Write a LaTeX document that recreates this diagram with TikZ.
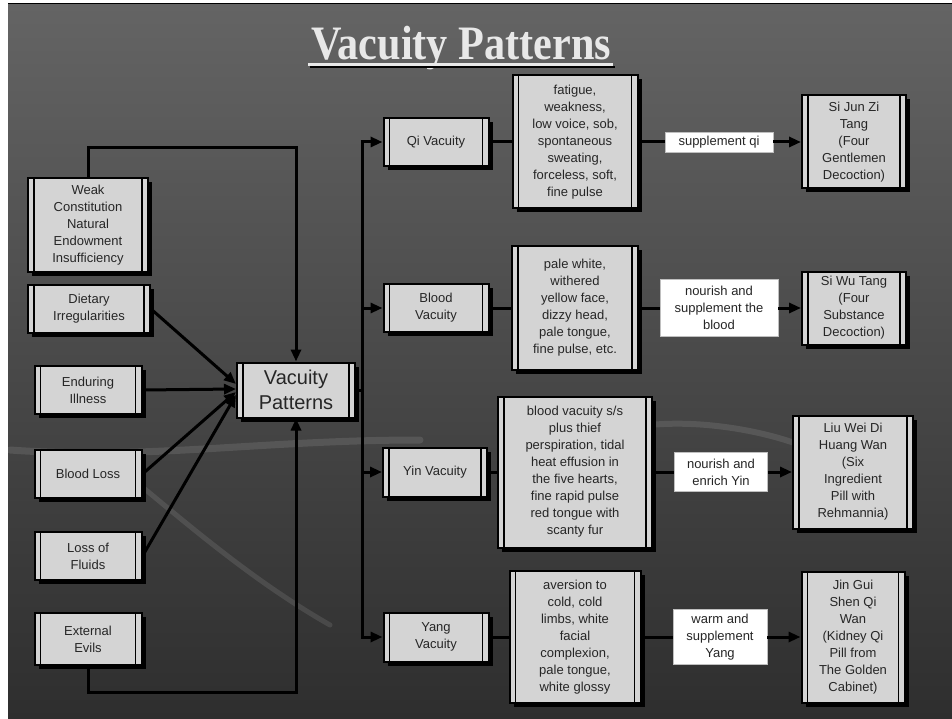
\documentclass[tikz,border=0pt]{standalone}
\usepackage{fontspec}
\setmainfont{Liberation Sans}
\newfontfamily\titlefont{Liberation Serif}
\usetikzlibrary{arrows.meta,shadows}

\definecolor{bgtop}{HTML}{646464}
\definecolor{bgmid}{HTML}{505050}
\definecolor{bgbot}{HTML}{2E2E2E}
\definecolor{boxfill}{HTML}{D4D4D4}
\definecolor{boxtext}{HTML}{262626}
\definecolor{titlegray}{HTML}{E8E8E8}

\tikzset{
  sz/.style 2 args={minimum width=#1pt, minimum height=#2pt},
  proc/.style={draw=black, line width=2pt, fill=boxfill, text=boxtext,
    align=center, inner sep=0pt, font=\fontsize{13}{17}\selectfont,
    drop shadow={shadow xshift=4pt, shadow yshift=-4pt, fill=black, opacity=1},
    path picture={
      \draw[line width=1.2pt]
        ([xshift=6pt]path picture bounding box.north west) -- ([xshift=6pt]path picture bounding box.south west)
        ([xshift=-6pt]path picture bounding box.north east) -- ([xshift=-6pt]path picture bounding box.south east);
    }},
  lbl/.style={draw=gray!50, line width=0.6pt, fill=white, text=boxtext,
    align=center, inner sep=0pt, font=\fontsize{13}{17}\selectfont},
  link/.style={line width=3pt, black},
  arr/.style={link, -{Triangle[length=12pt,width=10pt]}},
  swoosh/.style={white, opacity=0.1, line cap=round}
}

\begin{document}
\begin{tikzpicture}[x=1pt, y=-1pt]
    \useasboundingbox (0,0) rectangle (952,719);

    % Background
    \fill[white] (0,0) rectangle (952,719);
    \shade[top color=bgtop, middle color=bgmid, bottom color=bgbot] (8,4) rectangle (952,719);
    \draw[line width=1pt, black] (8,4) -- (952,4);
    \draw[swoosh, line width=7pt] (10,450) .. controls (150,460) and (260,440) .. (420,440);
    \draw[swoosh, line width=5pt] (140,485) .. controls (200,535) and (260,585) .. (330,625);
    \draw[swoosh, line width=6pt] (650,425) .. controls (700,420) and (760,430) .. (800,445);

    % Title
    \node[anchor=base, text=titlegray, font=\titlefont\bfseries\fontsize{48}{48}\selectfont] (title) at (461,60) {\scalebox{0.88}[1]{Vacuity Patterns}};
    \draw[line width=2pt, black] (310,67.5) -- (615,67.5);
    \draw[line width=2.5pt, titlegray] (308,64.5) -- (613,64.5);

    % Causes
    \node[proc, sz={120}{94}] (weak) at (88,225) {Weak\\Constitution\\Natural\\Endowment\\Insufficiency};
    \node[proc, sz={122}{48}] (diet) at (89,309) {Dietary\\Irregularities};
    \node[proc, sz={107}{48}] (endur) at (88,390) {Enduring\\Illness};
    \node[proc, sz={107}{48}] (bloss) at (88,474) {Blood Loss};
    \node[proc, sz={107}{48}] (fluids) at (88,556) {Loss of\\Fluids};
    \node[proc, sz={107}{52}] (evils) at (88,639) {External\\Evils};

    % Center
    \node[proc, sz={118}{55}, font=\fontsize{20}{25}\selectfont] (vp) at (296,390) {Vacuity\\Patterns};

    % Patterns
    \node[proc, sz={105}{48}] (qiv) at (436,142) {Qi Vacuity};
    \node[proc, sz={105}{48}] (bv) at (436,308) {Blood\\Vacuity};
    \node[proc, sz={104}{49}] (yinv) at (435,472) {Yin Vacuity};
    \node[proc, sz={105}{49}] (yangv) at (436,637) {Yang\\Vacuity};

    % Signs
    \node[proc, sz={125}{133}] (qisym) at (575,142) {fatigue,\\weakness,\\low voice, sob,\\spontaneous\\sweating,\\forceless, soft,\\fine pulse};
    \node[proc, sz={126}{124}] (bsym) at (575,308) {pale white,\\withered\\yellow face,\\dizzy head,\\pale tongue,\\fine pulse, etc.};
    \node[proc, sz={154}{151}] (yinsym) at (575,472) {blood vacuity s/s\\plus thief\\perspiration, tidal\\heat effusion in\\the five hearts,\\fine rapid pulse\\red tongue with\\scanty fur};
    \node[proc, sz={131}{132}] (yangsym) at (575,637) {aversion to\\cold, cold\\limbs, white\\facial\\complexion,\\pale tongue,\\white glossy};

    % Treatments
    \node[lbl, sz={108}{20}] (qilbl) at (719,142) {supplement qi};
    \node[lbl, sz={118}{57}] (blbl) at (719,308) {nourish and\\supplement the\\blood};
    \node[lbl, sz={93}{39}] (yinlbl) at (721,472) {nourish and\\enrich Yin};
    \node[lbl, sz={94}{55}] (yanglbl) at (720,637) {warm and\\supplement\\Yang};

    % Formulas
    \node[proc, sz={104}{93}] (sijunzi) at (854,142) {Si Jun Zi\\Tang\\(Four\\Gentlemen\\Decoction)};
    \node[proc, sz={104}{73}] (siwu) at (854,308) {Si Wu Tang\\(Four\\Substance\\Decoction)};
    \node[proc, sz={120}{113}] (liuwei) at (853,472) {Liu Wei Di\\Huang Wan\\(Six\\Ingredient\\Pill with\\Rehmannia)};
    \node[proc, sz={103}{131}] (jingui) at (853,637) {Jin Gui\\Shen Qi\\Wan\\(Kidney Qi\\Pill from\\The Golden\\Cabinet)};

    % Causes into center
    \coordinate (topbend) at (88,148);
    \coordinate (botbend) at (88,692);
    \draw[arr] (weak.north) -- (topbend) -| (vp.north);
    \draw[arr] (evils.south) -- (botbend) -| (vp.south);
    \draw[arr] (diet.east) -- ([yshift=6pt]vp.west);
    \draw[arr] (endur.east) -- ([yshift=1pt]vp.west);
    \draw[arr] (bloss.east) -- ([yshift=-2pt]vp.west);
    \draw[arr] (fluids.east) -- ([yshift=-5pt]vp.west);

    % Center to patterns
    \coordinate (bus) at (362,390);
    \draw[link] (vp.east) -- (bus);
    \draw[arr] (bus) |- (qiv.west);
    \draw[arr] (bus) |- (bv.west);
    \draw[arr] (bus) |- (yinv.west);
    \draw[arr] (bus) |- (yangv.west);

    % Rows
    \draw[link] (qiv) -- (qisym);
    \draw[link] (qisym) -- (qilbl);
    \draw[arr] (qilbl) -- (sijunzi);
    \draw[link] (bv) -- (bsym);
    \draw[link] (bsym) -- (blbl);
    \draw[arr] (blbl) -- (siwu);
    \draw[link] (yinv) -- (yinsym);
    \draw[link] (yinsym) -- (yinlbl);
    \draw[arr] (yinlbl) -- (liuwei);
    \draw[link] (yangv) -- (yangsym);
    \draw[link] (yangsym) -- (yanglbl);
    \draw[arr] (yanglbl) -- (jingui);

\end{tikzpicture}
\end{document}
